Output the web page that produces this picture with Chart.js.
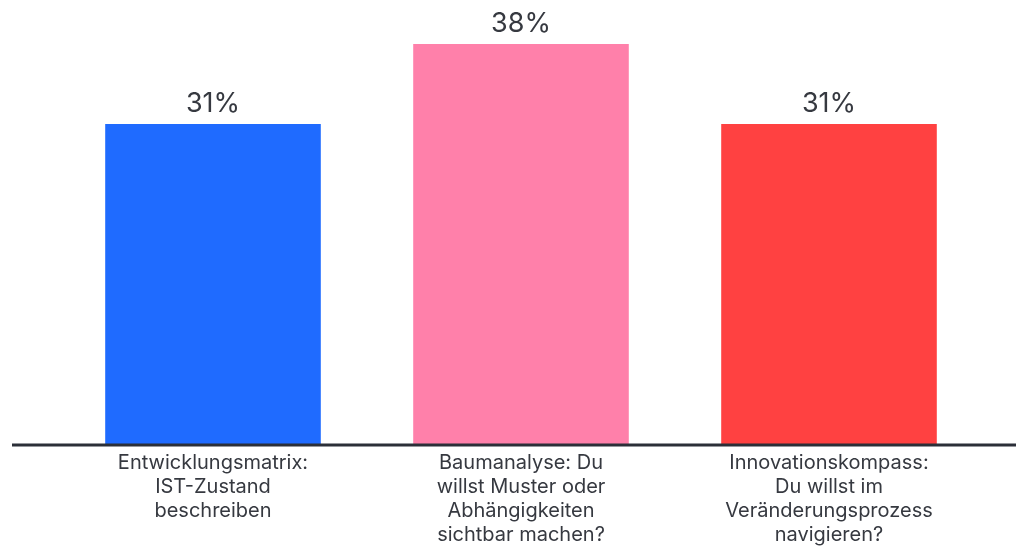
<!DOCTYPE html>
<html>
<head>
<meta charset="utf-8">
<script src="https://cdn.jsdelivr.net/npm/chart.js@4"></script>
<style>
  html, body { margin: 0; padding: 0; background: #ffffff; }
  #wrap { width: 1016px; height: 547px; position: relative; }
</style>
</head>
<body>
<div id="wrap"><canvas id="c"></canvas></div>
<script>
const categories = [
  ["Entwicklungsmatrix:", "IST-Zustand", "beschreiben"],
  ["Baumanalyse: Du", "willst Muster oder", "Abhängigkeiten", "sichtbar machen?"],
  ["Innovationskompass:", "Du willst im", "Veränderungsprozess", "navigieren?"]
];
const values = [30.77, 38.46, 30.77];
const valueLabels = ["31%", "38%", "31%"];
const barColors = ["#1F6BFF", "#FF80AA", "#FF4141"];

const FONT = "Inter, 'Noto Sans', sans-serif";
const TEXT = "#363940";

const valueLabelPlugin = {
  id: 'valueLabels',
  afterDatasetsDraw(chart) {
    const ctx = chart.ctx;
    const meta = chart.getDatasetMeta(0);
    ctx.save();
    ctx.font = "400 27px " + FONT;
    ctx.fillStyle = TEXT;
    ctx.textAlign = 'center';
    ctx.textBaseline = 'alphabetic';
    meta.data.forEach((bar, i) => {
      ctx.fillText(valueLabels[i], bar.x, bar.y - 12);
    });
    ctx.restore();
  }
};

const baseLinePlugin = {
  id: 'baseLine',
  afterDatasetsDraw(chart) {
    const ctx = chart.ctx;
    const y = chart.scales.y.getPixelForValue(0);
    ctx.save();
    ctx.strokeStyle = '#2B2F38';
    ctx.lineWidth = 3;
    ctx.beginPath();
    ctx.moveTo(chart.chartArea.left - 47, y);
    ctx.lineTo(chart.width, y);
    ctx.stroke();
    ctx.restore();
  }
};

new Chart(document.getElementById('c'), {
  type: 'bar',
  data: {
    labels: categories,
    datasets: [{
      data: values,
      backgroundColor: barColors,
      borderWidth: 0,
      barPercentage: 0.7,
      categoryPercentage: 1.0
    }]
  },
  options: {
    responsive: true,
    maintainAspectRatio: false,
    animation: false,
    devicePixelRatio: 1,
    layout: { padding: { left: 59, right: 33, top: 7, bottom: -6 } },
    plugins: { legend: { display: false }, tooltip: { enabled: false } },
    scales: {
      x: {
        grid: { display: false, drawTicks: false },
        border: { display: false },
        ticks: {
          color: TEXT,
          font: { family: FONT, size: 20, lineHeight: 1.2 },
          padding: 6,
          maxRotation: 0,
          autoSkip: false
        }
      },
      y: {
        display: false,
        min: 0,
        max: 42
      }
    }
  },
  plugins: [valueLabelPlugin, baseLinePlugin]
});
</script>
</body>
</html>
